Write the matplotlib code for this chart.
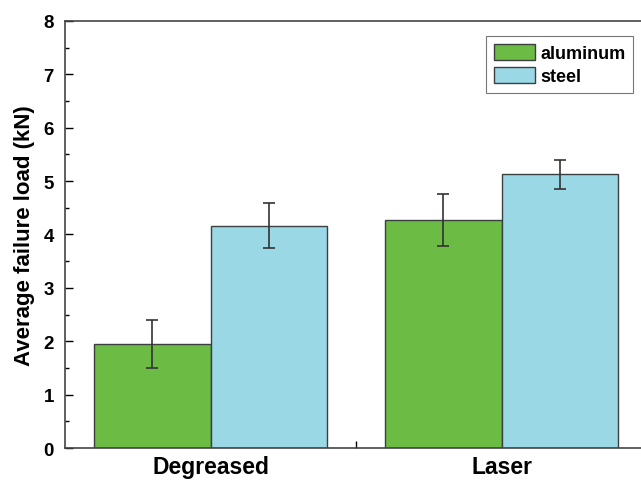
import numpy as np
import matplotlib
matplotlib.use("Agg")
import matplotlib.pyplot as plt
from matplotlib.ticker import MultipleLocator, FixedLocator

plt.rcParams['font.family'] = ['Liberation Sans', 'DejaVu Sans']
plt.rcParams['font.weight'] = 'bold'

treatments = ["Degreased", "Laser"]
aluminum = [1.95, 4.27]
aluminum_err = [0.45, 0.48]
steel = [4.16, 5.13]
steel_err = [0.42, 0.27]

green = '#6bbb45'
blue = '#9bd8e5'
edge = '#3a3f3f'

fig = plt.figure(figsize=(6.41, 4.81), dpi=100)
ax = fig.add_axes([0.1014, 0.0665, 0.908, 0.888])

x = np.arange(len(treatments))
w = 0.4
err_kw = dict(ecolor='#333333', elinewidth=1.2, capsize=4.5, capthick=1.2)
ax.bar(x - w / 2, aluminum, w, yerr=aluminum_err, color=green, edgecolor=edge,
       linewidth=1.0, label='aluminum', error_kw=err_kw)
ax.bar(x + w / 2, steel, w, yerr=steel_err, color=blue, edgecolor=edge,
       linewidth=1.0, label='steel', error_kw=err_kw)

ax.set_xlim(-0.5, 1.5)
ax.set_ylim(0, 8)
ax.set_xticks(x)
ax.set_xticklabels(treatments, fontsize=16.5, fontweight='bold')
ax.xaxis.set_minor_locator(FixedLocator([0.5]))
ax.tick_params(axis='x', which='major', length=0, pad=5)
ax.tick_params(axis='x', which='minor', direction='in', length=5, width=1)

ax.yaxis.set_major_locator(MultipleLocator(1))
ax.yaxis.set_minor_locator(MultipleLocator(0.5))
ax.tick_params(axis='y', which='major', direction='in', length=6, width=1,
               labelsize=13.5, pad=8)
ax.tick_params(axis='y', which='minor', direction='in', length=3, width=1)
for lab in ax.get_yticklabels():
    lab.set_fontweight('bold')

ax.set_ylabel('Average failure load (kN)', fontsize=16, fontweight='bold',
              labelpad=6)

for side in ['left', 'bottom', 'top']:
    ax.spines[side].set_color('#444444')
    ax.spines[side].set_linewidth(1.2)
ax.spines['right'].set_visible(False)

leg = ax.legend(loc='upper right', bbox_to_anchor=(0.982, 0.972),
                frameon=True, fancybox=False, edgecolor='#555555',
                handlelength=2.25, handleheight=0.95, handletextpad=0.3,
                borderpad=0.42, labelspacing=0.28, borderaxespad=0.2,
                prop={'weight': 'bold', 'size': 13})
leg.get_frame().set_linewidth(0.8)

fig.savefig('out.png', dpi=100)
